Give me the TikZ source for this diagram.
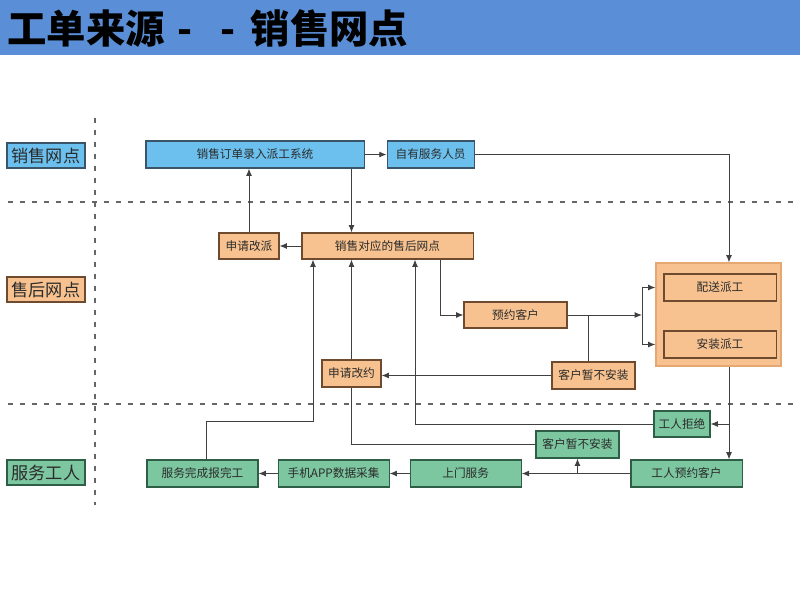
\documentclass[tikz,border=0pt]{standalone}
\usepackage{fontspec}
\setmainfont{Noto Sans CJK SC}
\usetikzlibrary{arrows.meta,positioning}
\definecolor{titleblue}{HTML}{5A8ED6}
\definecolor{salesblue}{HTML}{6CC0EE}
\definecolor{salesline}{HTML}{3A5569}
\definecolor{shoporange}{HTML}{F7C28F}
\definecolor{shopline}{HTML}{6E4B2E}
\definecolor{frameorange}{HTML}{E6A873}
\definecolor{workgreen}{HTML}{7CC6A0}
\definecolor{workline}{HTML}{2F5E47}
\definecolor{linegray}{HTML}{404040}
\definecolor{textgray}{HTML}{2B2B2B}
\begin{document}
\begin{tikzpicture}[x=0.025cm, y=-0.025cm]
  \tikzstyle{box} = [rectangle, line width=0.75pt, text=textgray, inner sep=0pt, font=\fontsize{8.3}{10}\selectfont, minimum height=0.675cm]
  \tikzstyle{salesbox} = [box, fill=salesblue, draw=salesline]
  \tikzstyle{shopbox} = [box, fill=shoporange, draw=shopline]
  \tikzstyle{workbox} = [box, fill=workgreen, draw=workline]
  \tikzstyle{lanebox} = [box, draw=salesline, minimum width=1.95cm, minimum height=0.625cm, font=\fontsize{12.2}{14}\selectfont]
  \tikzstyle{laneline} = [draw=linegray!80, line width=0.8pt, dash pattern=on 0.125cm off 0.175cm]
  \tikzstyle{link} = [draw=linegray, line width=0.7pt]
  \tikzstyle{arrow} = [link, -{Latex[length=5.2pt,width=4.2pt]}]

  \useasboundingbox (0,0) rectangle (800,600);
  \fill [titleblue] (0,0) rectangle (800,55);
  \node (title) [anchor=west, inner sep=0pt, font=\fontsize{28}{30}\selectfont\bfseries] at (7,28) {工单来源\hspace{0.32em}-\hspace{0.7em}-\hspace{0.4em}销售网点};

  % swim lanes
  \draw [laneline] (95,118) -- (95,505);
  \draw [laneline] (8,202) -- (800,202);
  \draw [laneline] (8,404) -- (800,404);
  \node (lanesales) [lanebox, fill=salesblue] at (46,155.5) {销售网点};
  \node (laneshop) [lanebox, fill=shoporange, draw=shopline] at (46,289.5) {售后网点};
  \node (laneworker) [lanebox, fill=workgreen, draw=workline] at (46,472.5) {服务工人};

  % boxes
  \node (order) [salesbox, minimum width=5.45cm] at (255,154.5) {销售订单录入派工系统};
  \node (own) [salesbox, minimum width=2.175cm, right=0.55cm of order] {自有服务人员};
  \node (reassign) [shopbox, minimum width=1.5cm, minimum height=0.65cm] at (249,246) {申请改派};
  \node (outlet) [shopbox, minimum width=4.275cm, minimum height=0.65cm] at (387.5,246) {销售对应的售后网点};
  \node (appoint) [shopbox, minimum width=2.575cm, minimum height=0.65cm] at (515.5,315) {预约客户};
  \node (holdshop) [shopbox, minimum width=2.075cm] at (593.5,375.5) {客户暂不安装};
  \node (rebook) [shopbox, minimum width=1.475cm] at (351.5,373.5) {申请改约};
  \node (dispatch) [rectangle, fill=shoporange, draw=frameorange, line width=0.8pt, minimum width=3.125cm, minimum height=2.575cm] at (718.5,314.5) {};
  \node (deliver) [shopbox, minimum width=2.8cm] at (720,287.5) {配送派工};
  \node (install) [shopbox, minimum width=2.8cm] at (720,344.5) {安装派工};
  \node (reject) [workbox, minimum width=1.4cm, minimum height=0.65cm] at (682,424) {工人拒绝};
  \node (holdwork) [workbox, minimum width=2.075cm] at (577.5,444.5) {客户暂不安装};
  \node (workbook) [workbox, minimum width=2.775cm] at (686.5,473.5) {工人预约客户};
  \node (done) [workbox, minimum width=2.775cm] at (202.5,473.5) {服务完成报完工};
  \node (app) [workbox, minimum width=2.775cm, right=0.475cm of done] {手机APP数据采集};
  \node (visit) [workbox, minimum width=2.775cm, right=0.5cm of app] {上门服务};

  \coordinate (colA) at (313,0);
  \coordinate (colC) at (415,0);
  \coordinate (colD) at (440,0);
  \coordinate (split) at (588,0);
  \coordinate (fork) at (642,315);
  \coordinate (drop) at (729,0);
  \coordinate (rowA) at (0,421);

  % connectors
  \draw [arrow] (order) -- (own);
  \draw [arrow] (own.east) -| (drop |- dispatch.north);
  \draw [arrow] (order.south -| rebook) -- (outlet.north -| rebook);
  \draw [arrow] (reassign.north) -- (reassign.north |- order.south);
  \draw [arrow] (outlet) -- (reassign);
  \draw [arrow] (outlet.south -| colD) |- (appoint.west);
  \draw [arrow] (appoint.east) -- (fork);
  \draw [link] (fork |- deliver) -- (fork |- install);
  \draw [arrow] (fork |- deliver) -- (dispatch.west |- deliver);
  \draw [arrow] (fork |- install) -- (dispatch.west |- install);
  \draw [link] (split |- appoint.east) -- (split |- holdshop.north);
  \draw [arrow] (holdshop.west) -- (holdshop.west -| rebook.east);
  \draw [arrow] (rebook.north) -- (rebook.north |- outlet.south);
  \draw [link] (holdwork.west) -| (rebook.south);
  \draw [arrow] ([xshift=0.1cm]done.north) |- (colA |- rowA) -- (colA |- outlet.south);
  \draw [arrow] (reject.west) -| (colC |- outlet.south);
  \draw [arrow] (drop |- dispatch.south) -- (drop |- workbook.north);
  \draw [arrow] (drop |- reject.east) -- (reject.east);
  \draw [arrow] (workbook) -- (visit);
  \draw [arrow] (holdwork.south |- workbook.west) -- (holdwork.south);
  \draw [arrow] (visit) -- (app);
  \draw [arrow] (app) -- (done);
\end{tikzpicture}
\end{document}
